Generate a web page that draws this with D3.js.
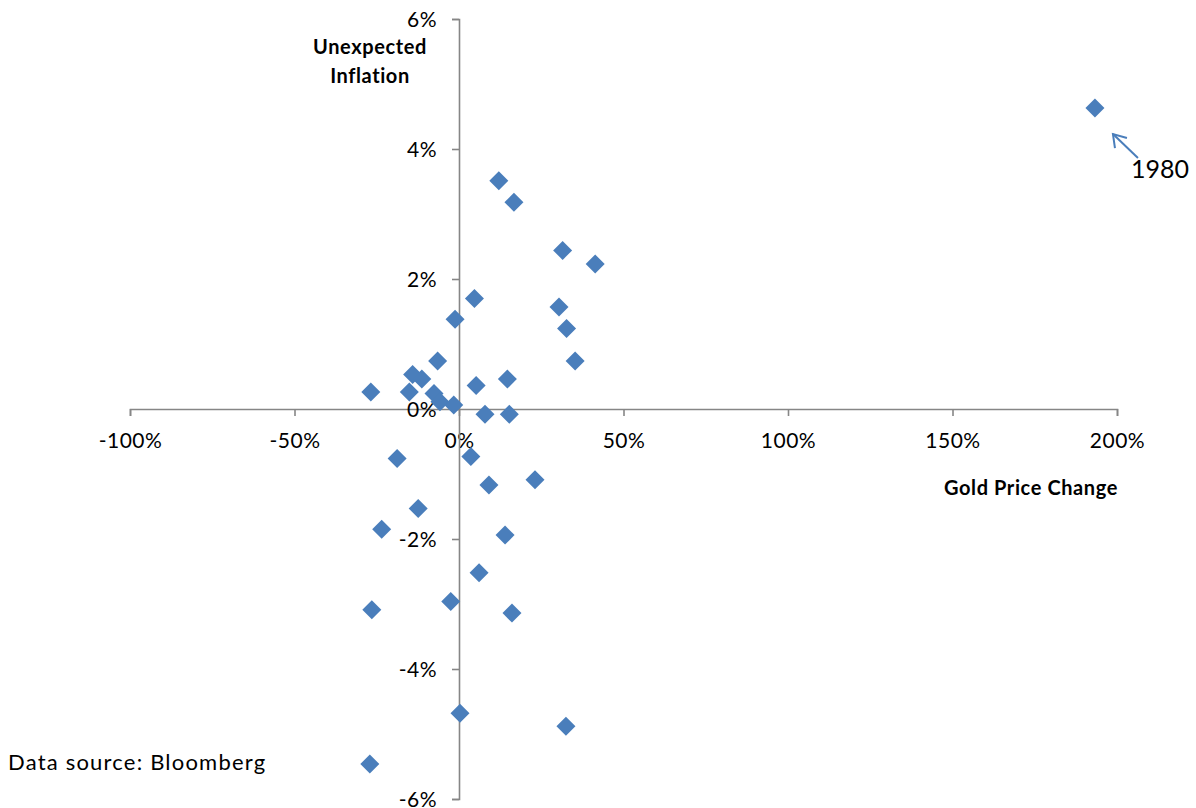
<!DOCTYPE html>
<html><head><meta charset="utf-8">
<script src="https://cdn.jsdelivr.net/npm/d3@7"></script>
<style>body{margin:0;background:#fff;} svg{display:block;font-family:Lato,"Open Sans",sans-serif;}</style>
</head><body><svg id="c" width="1196" height="808"></svg>
<script>
const goldChange = [193.3,12.1,16.7,31.5,41.4,4.7,30.4,-1.2,32.7,-6.5,35.3,-14.1,-11.3,5.2,14.7,-26.8,-15.1,-7.6,-5.8,-1.6,7.9,15.3,-18.8,3.6,9.1,23.1,-12.4,-23.5,14.0,6.1,-2.5,-26.5,16.1,0.3,32.5,-27.1];
const unexpInfl = [4.63,3.51,3.18,2.44,2.23,1.70,1.57,1.38,1.24,0.74,0.74,0.53,0.46,0.36,0.46,0.26,0.26,0.24,0.11,0.06,-0.08,-0.08,-0.76,-0.73,-1.17,-1.09,-1.53,-1.85,-1.94,-2.52,-2.96,-3.09,-3.14,-4.68,-4.88,-5.46];
const xTicks = [-100,-50,0,50,100,150,200];
const yTicks = [-6,-4,-2,0,2,4,6];

const svg = d3.select("#c");
const x = d3.scaleLinear().domain([-100,200]).range([130,1117]);
const y = d3.scaleLinear().domain([-6,6]).range([799,19]);
const axisColor = "#868686";

const gx = svg.append("g").attr("transform",`translate(0,${y(0)})`)
  .call(d3.axisBottom(x).tickValues(xTicks).tickSize(7).tickPadding(14).tickFormat(d=>d+"%"));
const gy = svg.append("g").attr("transform",`translate(${x(0)},0)`)
  .call(d3.axisLeft(y).tickValues(yTicks).tickSize(7).tickPadding(15).tickFormat(d=>d+"%"));
[gx,gy].forEach(g=>{
  g.selectAll("path.domain").attr("stroke",axisColor).attr("stroke-width",1.6);
  g.selectAll(".tick line").attr("stroke",axisColor).attr("stroke-width",1.6);
  g.selectAll(".tick text").attr("fill","#000").style("font-size","21px")
    .style("letter-spacing","0.5px").style("font-family","Lato, sans-serif");
});
gx.selectAll(".tick text").attr("dy","0.85em");
gy.selectAll(".tick text").attr("dy","0.35em");

svg.append("g").selectAll("path").data(goldChange.map((g,i)=>[g,unexpInfl[i]]))
  .join("path")
  .attr("transform",d=>`translate(${x(d[0])},${y(d[1])})`)
  .attr("d","M0,-9.5L9.5,0L0,9.5L-9.5,0Z")
  .attr("fill","#4A7EBB");

const t = svg.append("text").attr("x",370).attr("y",54).attr("text-anchor","middle")
  .style("font-size","20px").style("font-weight","bold").style("letter-spacing","0.6px");
t.append("tspan").attr("x",370).text("Unexpected");
t.append("tspan").attr("x",370).attr("dy",29).text("Inflation");
svg.append("text").attr("x",1118).attr("y",495).attr("text-anchor","end")
  .style("font-size","20px").style("font-weight","bold").style("letter-spacing","0.6px").text("Gold Price Change");

svg.append("text").attr("x",1131).attr("y",178).style("font-size","25px").text("1980");
const ax1 = x(goldChange[0])+18, ay1 = y(unexpInfl[0])+26;
const ax2 = ax1+25, ay2 = ay1+24;
svg.append("line").attr("x1",ax2).attr("y1",ay2).attr("x2",ax1).attr("y2",ay1)
  .attr("stroke","#4A7EBB").attr("stroke-width",2);
svg.append("path").attr("d",`M${ax1+2},${ay1+14}L${ax1},${ay1}L${ax1+14},${ay1+4}`)
  .attr("fill","none").attr("stroke","#4A7EBB").attr("stroke-width",2);

svg.append("text").attr("x",8).attr("y",770).style("font-size","22px").style("letter-spacing","1.2px").text("Data source: Bloomberg");
</script></body></html>
